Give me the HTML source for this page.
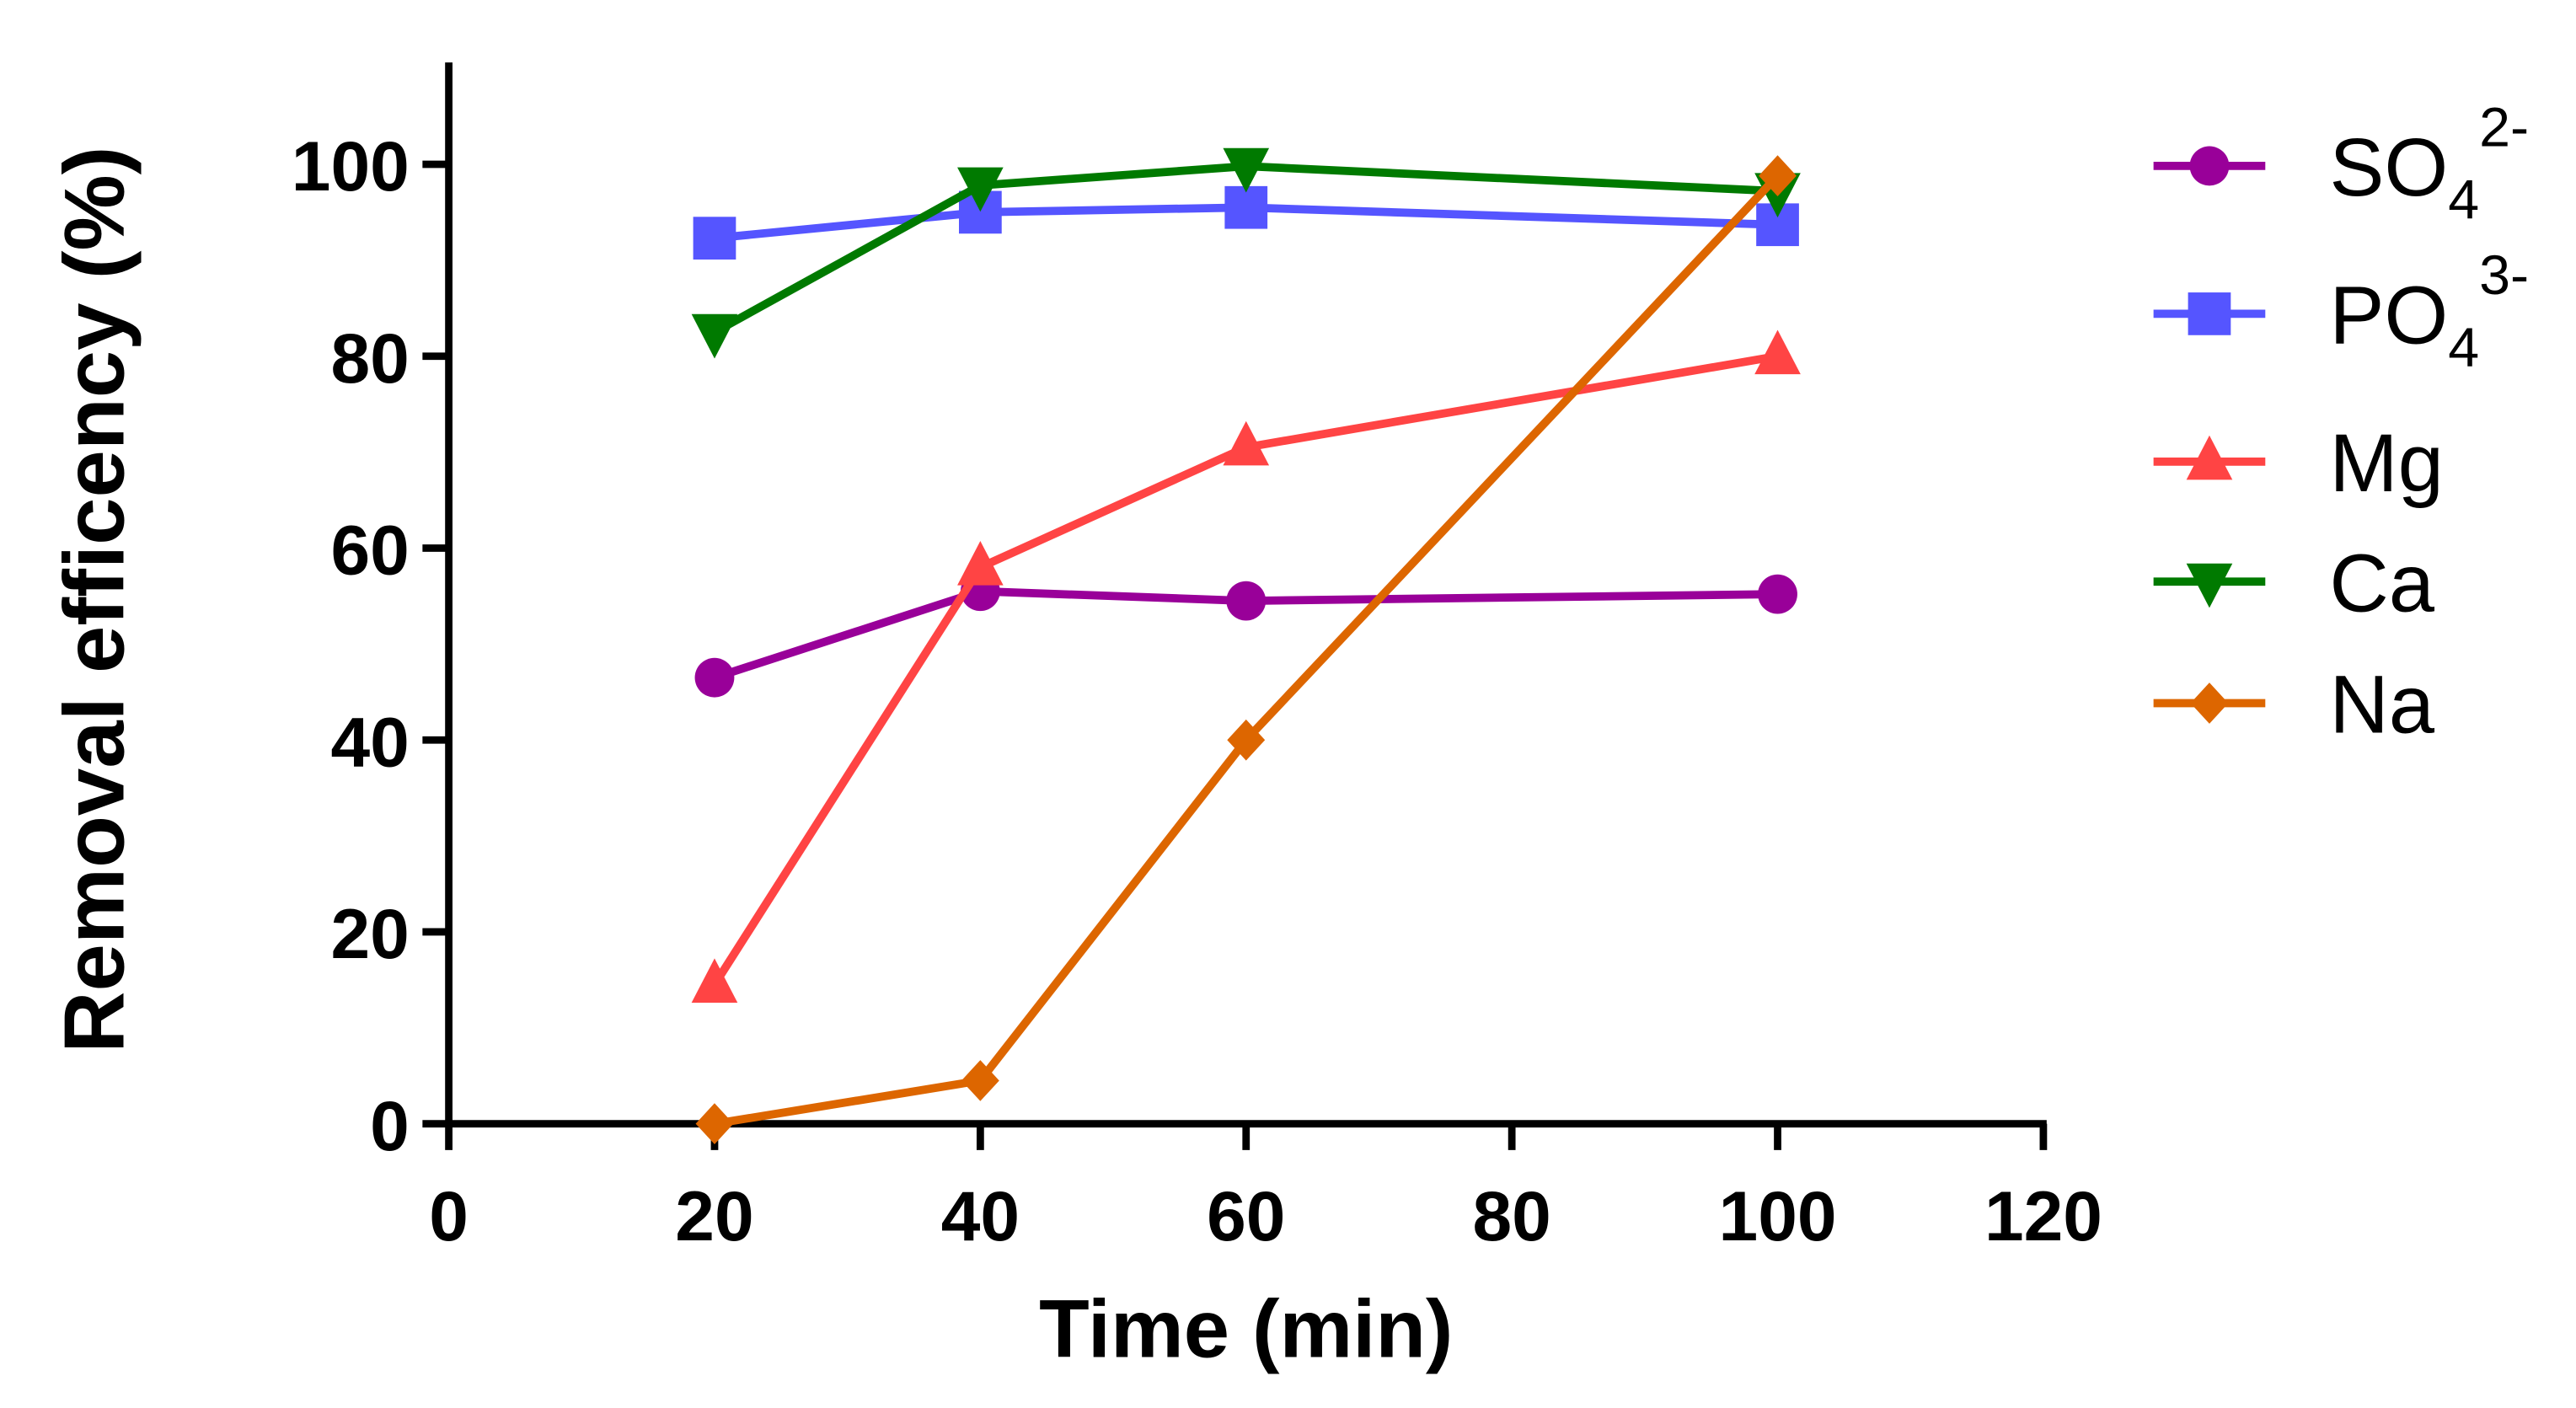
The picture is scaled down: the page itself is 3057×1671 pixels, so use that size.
<!DOCTYPE html>
<html><head><style>
html,body{margin:0;padding:0;background:#fff;}
svg{display:block;}
text{font-family:"Liberation Sans",Arial,sans-serif;}
</style></head><body>
<svg id="chart" width="3057" height="1671" viewBox="0 0 1567 857" preserveAspectRatio="none" xmlns="http://www.w3.org/2000/svg">
<g id="axes"></g>
<g id="series"></g>
<g id="legend"></g>
<text transform="translate(75,365) rotate(-90)" text-anchor="middle" font-size="52" font-weight="bold">Removal efficency (%)</text>
<text x="758" y="826" text-anchor="middle" font-size="50" font-weight="bold">Time (min)</text>
</svg>
<script>
const times = [20, 40, 60, 100];
const seriesNames = ["SO4", "PO4", "Mg", "Ca", "Na"];
const so4 = [46.5, 55.5, 54.5, 55.2];
const po4 = [92.3, 95.0, 95.5, 93.7];
const mg = [14.5, 58.0, 70.5, 80.0];
const ca = [82.5, 97.8, 99.8, 97.2];
const na = [0, 4.5, 40.0, 98.8];
const xTicks = [0, 20, 40, 60, 80, 100, 120];
const yTicks = [0, 20, 40, 60, 80, 100];

const NS = "http://www.w3.org/2000/svg";
const X0 = 273, X1 = 1243, Y0 = 684, Y100 = 100;
function xs(v){ return X0 + (v / 120) * (X1 - X0); }
function ys(v){ return Y0 - (v / 100) * (Y0 - Y100); }
function mk(tag, attrs, parent){ const e = document.createElementNS(NS, tag); for (const k in attrs) e.setAttribute(k, attrs[k]); parent.appendChild(e); return e; }

const axes = document.getElementById('axes');
let el = mk('line', {x1:X0, y1:38, x2:X0, y2:Y0+2, stroke:'#000', 'stroke-width':4.5}, axes);


el = mk('line', {x1:X0-2, y1:Y0, x2:X1+2, y2:Y0, stroke:'#000', 'stroke-width':4.5}, axes);


yTicks.forEach(t => {
  const tk = mk('line', {x1:X0-16, y1:ys(t), x2:X0, y2:ys(t), stroke:'#000', 'stroke-width':4.5}, axes);
  
  
  const lb = mk('text', {x:X0-24, y:ys(t)+16, 'text-anchor':'end', 'font-size':43, 'font-weight':'bold'}, axes);
  lb.textContent = t;
  
  
});
xTicks.forEach(t => {
  const tk = mk('line', {x1:xs(t), y1:Y0, x2:xs(t), y2:Y0+16, stroke:'#000', 'stroke-width':4.5}, axes);
  
  
  const lb = mk('text', {x:xs(t), y:Y0+71, 'text-anchor':'middle', 'font-size':43, 'font-weight':'bold'}, axes);
  lb.textContent = t;
  
  
});

const colors = ['#990099', '#5555ff', '#ff4444', '#007a00', '#dd6600'];
const shapes = ['circle', 'square', 'tri', 'tridown', 'diamond'];
const allData = [so4, po4, mg, ca, na];
function marker(shape, x, y, c, g){
  let m;
  if (shape === 'circle') m = mk('circle', {cx:x, cy:y, r:12, fill:c}, g);
  else if (shape === 'square') m = mk('rect', {x:x-13, y:y-13, width:26, height:26, fill:c}, g);
  else if (shape === 'tri') m = mk('polygon', {points:`${x},${y-16} ${x-14},${y+11} ${x+14},${y+11}`, fill:c}, g);
  else if (shape === 'tridown') m = mk('polygon', {points:`${x},${y+16} ${x-14},${y-11} ${x+14},${y-11}`, fill:c}, g);
  else m = mk('polygon', {points:`${x},${y-12.5} ${x+11.5},${y} ${x},${y+12.5} ${x-11.5},${y}`, fill:c}, g);
  return m;
}
const sg = document.getElementById('series');
allData.forEach((d, i) => {
  const g = mk('g', {}, sg);
  
  
  const pl = mk('polyline', {points: d.map((v, j) => xs(times[j]) + ',' + ys(v)).join(' '), fill:'none', stroke:colors[i], 'stroke-width':5}, g);
  
  
  d.forEach((v, j) => {
    const m = marker(shapes[i], xs(times[j]), ys(v), colors[i], g);
    
    
  });
});

const lg = document.getElementById('legend');
const labels = [['SO','4','2-'], ['PO','4','3-'], ['Mg','',''], ['Ca','',''], ['Na','','']];
const legendY = [101, 191, 281, 354, 428];
labels.forEach((l, i) => {
  const y = legendY[i];
  const g = mk('g', {}, lg);
  
  
  mk('line', {x1:1310, y1:y, x2:1378, y2:y, stroke:colors[i], 'stroke-width':5}, g);
  marker(shapes[i], 1344, y, colors[i], g);
  const t = mk('text', {x:1417, y:y+18, 'font-size':50}, g);
  t.textContent = l[0];
  if (l[1]) {
    const sub = mk('tspan', {'font-size':34, dy:14}, t); sub.textContent = l[1];
    const sup = mk('tspan', {'font-size':34, dy:-44}, t); sup.textContent = l[2];
  }
});
</script>
</body></html>
